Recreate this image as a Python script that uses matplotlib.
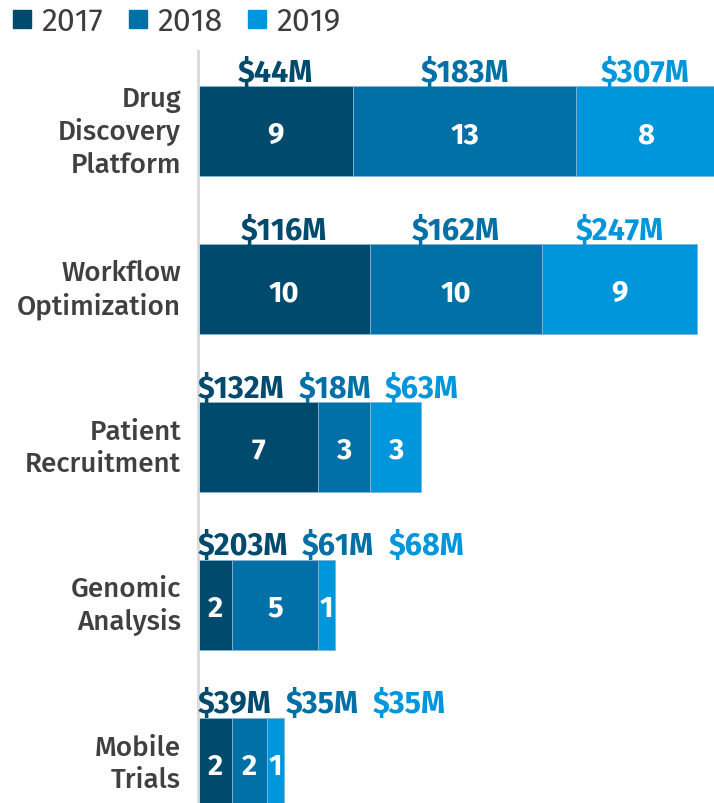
import numpy as np
import matplotlib.pyplot as plt
from matplotlib.lines import Line2D
from matplotlib import font_manager

# pick the closest face that is installed
installed = set(f.name for f in font_manager.fontManager.ttflist)
prefs = ['Fira Sans', 'Fira Sans Condensed', 'Roboto', 'DejaVu Sans']
face = [p for p in prefs if p in installed][0]
plt.rcParams['font.family'] = [face, 'DejaVu Sans']

# data
categories = ['Drug\nDiscovery\nPlatform', 'Workflow\nOptimization', 'Patient\nRecruitment',
              'Genomic\nAnalysis', 'Mobile\nTrials']
years = ['2017', '2018', '2019']
counts_2017 = [9, 10, 7, 2, 2]
counts_2018 = [13, 10, 3, 5, 2]
counts_2019 = [8, 9, 3, 1, 1]
funding_2017 = ['$44M', '$116M', '$132M', '$203M', '$39M']
funding_2018 = ['$183M', '$162M', '$18M', '$61M', '$35M']
funding_2019 = ['$307M', '$247M', '$63M', '$68M', '$35M']

colors = ['#004a6e', '#0070a6', '#0096db']
counts = [counts_2017, counts_2018, counts_2019]
funding = [funding_2017, funding_2018, funding_2019]

fig = plt.figure(figsize=(7.14, 8.04), dpi=100)
ax = fig.add_axes([0.277, 0.0, 0.723, 0.935])
ax.set_xlim(0, 30)
ax.set_ylim(4.253, -0.506)

y = np.arange(len(categories))
left = np.zeros(len(categories))
centers = []
for i in range(3):
    vals = np.array(counts[i])
    ax.barh(y, vals, left=left, height=0.57, color=colors[i],
            edgecolor='#7fb6d6', linewidth=0.6)
    for j, v in enumerate(vals):
        ax.text(left[j] + v / 2, y[j] + 0.02, str(v), ha='center', va='center',
                color='white', fontsize=21, fontweight='bold')
    centers.append(left + vals / 2)
    left = left + vals

# funding labels above segments, pushed apart where they collide
fig.canvas.draw()
renderer = fig.canvas.get_renderer()
px_per_unit = ax.bbox.width / 30.0
gap = 14 / px_per_unit
for j in range(len(categories)):
    texts = []
    for i in range(3):
        t = ax.text(centers[i][j], y[j] - 0.375, funding[i][j], ha='center', va='center',
                    color=colors[i], fontsize=22, fontweight='bold')
        texts.append(t)
    w = [t.get_window_extent(renderer).width / px_per_unit for t in texts]
    xs = [centers[i][j] for i in range(3)]
    for _ in range(100):
        xs[0] = max(xs[0], w[0] / 2)
        for k in range(2):
            need = (w[k] + w[k + 1]) / 2 + gap
            d = xs[k + 1] - xs[k]
            if d < need:
                push = (need - d) / 2
                xs[k] -= push
                xs[k + 1] += push
    xs[0] = max(xs[0], w[0] / 2)
    for k in range(1, 3):
        xs[k] = max(xs[k], xs[k - 1] + (w[k - 1] + w[k]) / 2 + gap)
    for t, xv in zip(texts, xs):
        t.set_x(xv)

ax.set_yticks(y)
ax.set_yticklabels(categories, fontsize=20, color='#404040', linespacing=1.25,
                   fontweight='medium', va='center')
ax.tick_params(axis='y', length=0, pad=12)
ax.set_xticks([])
for s in ['top', 'right', 'bottom']:
    ax.spines[s].set_visible(False)
ax.spines['left'].set_color('#d9d9d9')
ax.spines['left'].set_linewidth(2)

handles = [Line2D([], [], marker='s', linestyle='', markersize=13, color=c) for c in colors]
fig.legend(handles, years, loc='center left', bbox_to_anchor=(0.008, 1 - 22 / 804), ncol=3,
           frameon=False, fontsize=23, handletextpad=0.1, columnspacing=0.6,
           handlelength=1.0, borderpad=0, borderaxespad=0, labelcolor='#3d3d3d')

fig.savefig('out.png', dpi=100)
